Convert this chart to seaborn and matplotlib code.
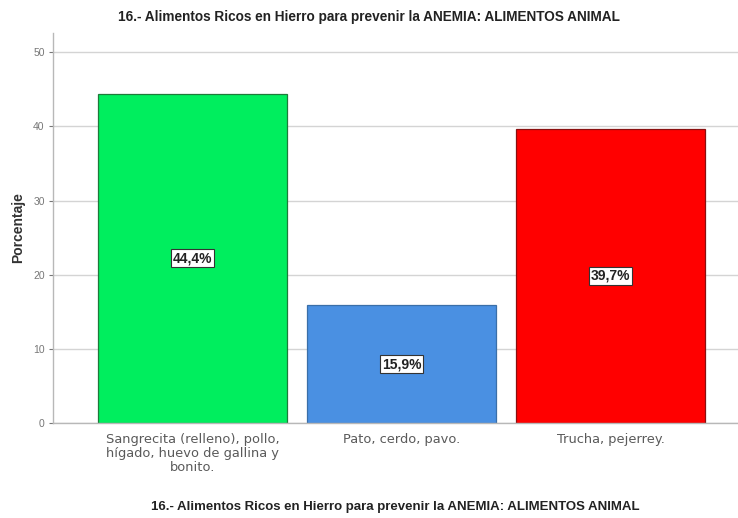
import matplotlib
matplotlib.use("Agg")
import matplotlib.pyplot as plt
import seaborn as sns
import pandas as pd

categorias = ["Sangrecita (relleno), pollo,\nhígado, huevo de gallina y\nbonito.",
              "Pato, cerdo, pavo.",
              "Trucha, pejerrey."]
porcentajes = [44.4, 15.9, 39.7]
etiquetas = ["44,4%", "15,9%", "39,7%"]
colores = ["#00EE5E", "#4A90E2", "#FF0000"]
bordes = ["#1E7A3A", "#3A6FA8", "#8A1010"]
titulo = "16.- Alimentos Ricos en Hierro para prevenir la ANEMIA: ALIMENTOS ANIMAL"

sns.set_theme(style="white")
plt.rcParams["font.family"] = ["Liberation Sans", "DejaVu Sans"]

df = pd.DataFrame({"cat": categorias, "pct": porcentajes})

fig = plt.figure(figsize=(7.38, 5.18), dpi=100)
ax = fig.add_axes([53 / 738, 1 - 423 / 518, (738 - 53) / 738, (423 - 33) / 518])

sns.barplot(data=df, x="cat", y="pct", hue="cat", palette=colores,
            dodge=False, width=0.904, legend=False, ax=ax, saturation=1)

for patch, ec in zip(ax.patches, bordes):
    patch.set_edgecolor(ec)
    patch.set_linewidth(0.9)

ax.set_xlim(-0.667, 2.61)
ax.set_ylim(0, 52.6)
ax.set_yticks([0, 10, 20, 30, 40, 50])
ax.yaxis.grid(True, color="#d4d4d4", linewidth=1)
ax.set_axisbelow(True)

for s in ["top", "right"]:
    ax.spines[s].set_visible(False)
for s in ["left", "bottom"]:
    ax.spines[s].set_color("#b8b8b8")
    ax.spines[s].set_linewidth(1)

ax.tick_params(axis="y", labelsize=7.5, colors="#777777", length=3, width=0.8,
               left=True, pad=3)
ax.tick_params(axis="x", length=0, pad=7)
for t in ax.get_xticklabels():
    t.set_fontfamily("DejaVu Sans")
    t.set_fontsize(9.4)
    t.set_color("#5a5a5a")
    t.set_linespacing(1.1)

ax.set_ylabel("Porcentaje", fontsize=10, fontweight="bold", color="#333333", labelpad=6)
ax.set_xlabel(titulo, fontsize=9.5, fontweight="bold", color="#222222", va="center")
ax.xaxis.set_label_coords(0.5, (423 - 507) / 390)
fig.suptitle(titulo, x=0.5, y=1 - 17 / 518, va="center", fontsize=9.8,
             fontweight="bold", color="#222222")

for i, (v, lab) in enumerate(zip(porcentajes, etiquetas)):
    ax.text(i, v / 2, lab, ha="center", va="center", fontsize=10, fontweight="bold",
            color="#222222",
            bbox=dict(boxstyle="square,pad=0.15", fc="white", ec="#333333", lw=0.8))

fig.savefig("out.png", dpi=100)
